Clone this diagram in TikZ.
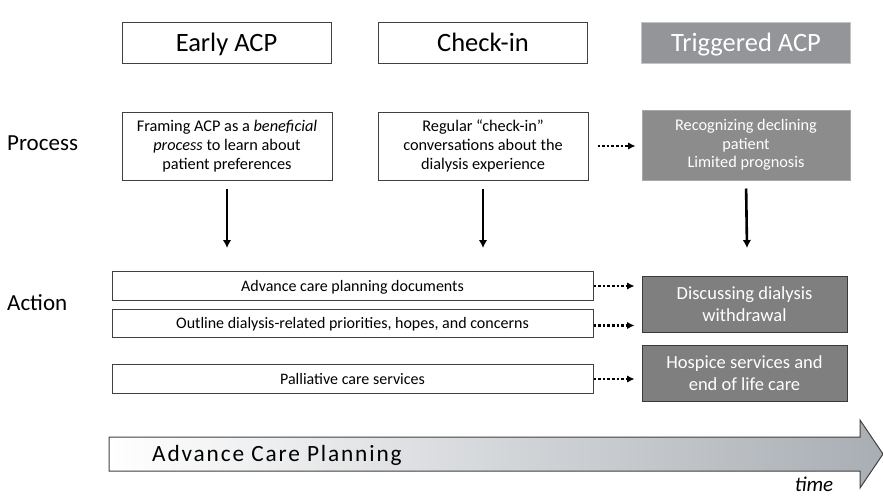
\documentclass[tikz,border=0pt]{standalone}
\usepackage{fontspec}
\setmainfont{Carlito}
\usetikzlibrary{positioning}
\usetikzlibrary{arrows.meta}
\tikzset{>={Latex[width=3mm,length=2.8mm]}}

\definecolor{boxline}{HTML}{404040}
\definecolor{trigfill}{HTML}{939598}
\definecolor{trigline}{HTML}{C4C4C4}
\definecolor{procfill}{HTML}{8C8C8C}
\definecolor{procline}{HTML}{A8A8A8}
\definecolor{endfill}{HTML}{7F7F7F}
\definecolor{endline}{HTML}{3A3A3A}
\definecolor{timegray}{HTML}{A9AEB4}

\begin{document}
\begin{tikzpicture}[x=1pt, y=-1pt, phase/.style={draw=boxline, fill=white, line width=1pt, minimum width=209pt, minimum height=41pt, inner sep=0pt, text height=17pt, text depth=0pt, font=\fontsize{26.5}{30}\selectfont}, trigphase/.style={phase, draw=trigline, fill=trigfill, text=white}, procbox/.style={draw=boxline, fill=white, line width=1pt, minimum width=210pt, minimum height=68pt, align=center, inner sep=0pt, font=\fontsize{16.3}{18.7}\selectfont}, trigproc/.style={procbox, draw=procline, fill=procfill, text=white, minimum width=208pt, minimum height=70pt}, actbox/.style={draw=boxline, fill=white, line width=1pt, minimum width=481pt, minimum height=28.5pt, inner sep=0pt, text height=10pt, text depth=0pt, font=\fontsize{16}{19}\selectfont}, endbox/.style={draw=endline, fill=endfill, line width=1pt, text=white, minimum width=205pt, minimum height=56pt, align=center, inner sep=0pt, font=\fontsize{18.5}{22}\selectfont}, rowlabel/.style={anchor=west, inner sep=0pt, font=\fontsize{23}{26}\selectfont}, downarrow/.style={->, line width=2.6pt, shorten <=8pt}, dotarrow/.style={->, line width=2.2pt, dash pattern=on 2.6pt off 2pt, >={Latex[width=2.6mm,length=2.6mm]}}]
    \useasboundingbox (0,0) rectangle (883,496);

    %Nodes
    \node[phase](early) at (226.5,42.5){Early ACP};
    \node[phase](checkin) at (483,42.5){Check-in};
    \node[trigphase](triggered) at (746,42.5){Triggered ACP};

    \node[rowlabel](process) at (7,143){Process};
    \node[rowlabel](action) at (7,303){Action};

    \node[procbox](framing) at (227,146){Framing ACP as a \textit{beneficial}\\\textit{process} to learn about\\patient preferences};
    \node[procbox](regular) at (483,146){Regular ``check-in''\\conversations about the\\dialysis experience};
    \node[trigproc](declining) at (746,145){Recognizing declining\\patient\\Limited prognosis};

    \node[actbox](documents) at (352.5,286){Advance care planning documents};
    \node[actbox](priorities) at (352.5,323.5){Outline dialysis-related priorities, hopes, and concerns};
    \node[actbox](palliative) at (352.5,379){Palliative care services};

    \node[endbox](withdrawal) at (744.5,304){Discussing dialysis\\withdrawal};
    \node[endbox](hospice) at (744.5,373){Hospice services and\\end of life care};

    \coordinate (early_end) at (227,248);
    \coordinate (checkin_end) at (483,248);
    \coordinate (triggered_end) at (747,248);

    %Time arrow
    \shade[left color=white, right color=timegray, draw=boxline, line width=1pt] (109,437) -- (860,437) -- (860,420) -- (883,454) -- (860,488) -- (860,471) -- (109,471) -- cycle;
    \node[anchor=west, inner sep=0pt, font=\fontsize{23.3}{26}\selectfont\addfontfeature{LetterSpace=8}](acp) at (152,455){Advance Care Planning};
    \node[inner sep=0pt, font=\fontsize{21}{24}\selectfont\itshape](time) at (814,484){time};

    %Lines
    \draw[downarrow] (framing.south) -- (early_end);
    \draw[downarrow] (regular.south) -- (checkin_end);
    \draw[downarrow] (declining.south) -- (triggered_end);
    \draw[dotarrow, shorten <=9pt, shorten >=6pt] (regular.east) -- (regular.east -| declining.west);
    \draw[dotarrow, shorten >=7pt] (documents.east) -- (documents.east -| withdrawal.west);
    \draw[dotarrow, shorten >=7pt] ([yshift=-2pt]priorities.east) -- ([yshift=-2pt]priorities.east -| withdrawal.west);
    \draw[dotarrow, shorten >=7pt] (palliative.east) -- (palliative.east -| hospice.west);

    \end{tikzpicture}
\end{document}
